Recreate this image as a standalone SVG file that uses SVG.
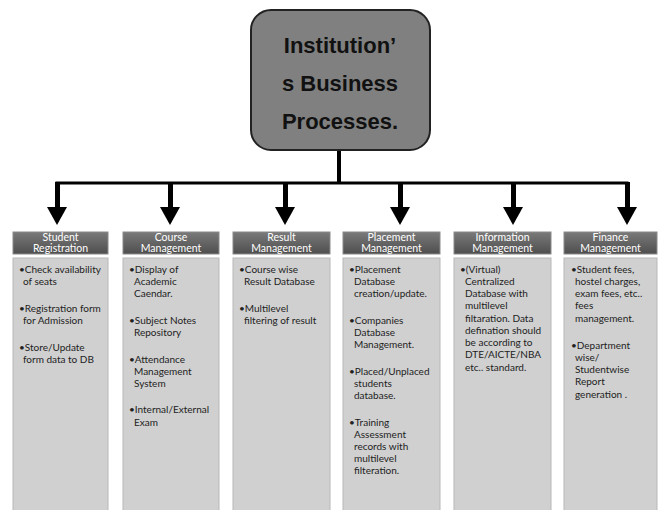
<svg xmlns="http://www.w3.org/2000/svg" width="658" height="510" viewBox="0 0 658 510">
<style>
.title{font-family:"Liberation Sans",Arial,sans-serif;font-weight:bold;font-size:22px;fill:#111;text-anchor:middle}
.hd{fill:url(#hg);stroke:#8a8a8a;stroke-width:1}
.body{fill:#d0d0d0;stroke:#b8b8b8;stroke-width:1}
.ht{font-family:Lato,"Liberation Sans",sans-serif;font-size:10.5px;fill:#fff;text-anchor:middle}
.bt{font-family:Lato,"Liberation Sans",sans-serif;font-size:10px;fill:#222}
.ln{stroke:#000;fill:none}
</style>
<defs>
<linearGradient id="hg" x1="0" y1="0" x2="0" y2="1">
<stop offset="0" stop-color="#7a7a7a"/>
<stop offset="1" stop-color="#4e4e4e"/>
</linearGradient>
<marker id="ah" markerUnits="userSpaceOnUse" markerWidth="20" markerHeight="18" refX="10" refY="0" orient="auto" viewBox="0 0 20 18" overflow="visible">
<path d="M0,0 L20,0 L10,18 Z" fill="#000" transform="rotate(-90 10 0) translate(0,0)"/>
</marker>
</defs>
<rect width="658" height="510" fill="#fff"/>

<g id="connectors">
<line class="ln" x1="339" y1="150" x2="339" y2="184" stroke-width="4"/>
<line class="ln" x1="55.5" y1="183" x2="628.5" y2="183" stroke-width="3"/>
<g fill="#000">
<rect x="55" y="182" width="5" height="26"/><polygon points="47,207 67,207 57,225"/>
<rect x="168" y="182" width="5" height="26"/><polygon points="160,207 180,207 170,225"/>
<rect x="283" y="182" width="5" height="26"/><polygon points="275,207 295,207 285,225"/>
<rect x="398" y="182" width="5" height="26"/><polygon points="390,207 410,207 400,225"/>
<rect x="511" y="182" width="5" height="26"/><polygon points="503,207 523,207 513,225"/>
<rect x="625" y="182" width="5" height="26"/><polygon points="617,207 637,207 627,225"/>
</g>
</g>

<g id="root">
<rect x="251" y="10" width="179" height="140" rx="20" ry="20" fill="#808080" stroke="#222" stroke-width="2"/>
<text class="title" x="340" y="53">Institution’</text>
<text class="title" x="340" y="91">s Business</text>
<text class="title" x="340" y="129">Processes.</text>
</g>

<g id="student">
<rect class="hd" x="13" y="232" width="95" height="22"/>
<text class="ht" x="60.5" y="241">Student</text>
<text class="ht" x="60.5" y="252">Registration</text>
<rect class="body" x="13" y="258" width="95" height="260"/>
<text class="bt"><tspan x="19" y="273">•Check availability</tspan><tspan x="23" y="285">of seats</tspan><tspan x="19" y="312">•Registration form</tspan><tspan x="23" y="324">for Admission</tspan><tspan x="19" y="351">•Store/Update</tspan><tspan x="23" y="363">form data to DB</tspan></text>
</g>

<g id="course">
<rect class="hd" x="123" y="232" width="96" height="22"/>
<text class="ht" x="171" y="241">Course</text>
<text class="ht" x="171" y="252">Management</text>
<rect class="body" x="123" y="258" width="96" height="260"/>
<text class="bt"><tspan x="129" y="273">•Display of</tspan><tspan x="134" y="285">Academic</tspan><tspan x="134" y="297">Caendar.</tspan><tspan x="129" y="324">•Subject Notes</tspan><tspan x="134" y="336">Repository</tspan><tspan x="129" y="363">•Attendance</tspan><tspan x="134" y="375">Management</tspan><tspan x="134" y="387">System</tspan><tspan x="129" y="413">•Internal/External</tspan><tspan x="134" y="426">Exam</tspan></text>
</g>

<g id="result">
<rect class="hd" x="233" y="232" width="97" height="22"/>
<text class="ht" x="281.5" y="241">Result</text>
<text class="ht" x="281.5" y="252">Management</text>
<rect class="body" x="233" y="258" width="97" height="260"/>
<text class="bt"><tspan x="239" y="273">•Course wise</tspan><tspan x="244" y="285">Result Database</tspan><tspan x="239" y="312">•Multilevel</tspan><tspan x="244" y="324">filtering of result</tspan></text>
</g>

<g id="placement">
<rect class="hd" x="343" y="232" width="97" height="22"/>
<text class="ht" x="391.5" y="241">Placement</text>
<text class="ht" x="391.5" y="252">Management</text>
<rect class="body" x="343" y="258" width="97" height="260"/>
<text class="bt"><tspan x="349" y="273">•Placement</tspan><tspan x="354" y="285">Database</tspan><tspan x="354" y="297">creation/update.</tspan><tspan x="349" y="324">•Companies</tspan><tspan x="354" y="336">Database</tspan><tspan x="354" y="348">Management.</tspan><tspan x="349" y="375">•Placed/Unplaced</tspan><tspan x="354" y="387">students</tspan><tspan x="354" y="399">database.</tspan><tspan x="349" y="426">•Training</tspan><tspan x="354" y="438">Assessment</tspan><tspan x="354" y="450">records with</tspan><tspan x="354" y="462">multilevel</tspan><tspan x="354" y="474">filteration.</tspan></text>
</g>

<g id="information">
<rect class="hd" x="454" y="232" width="97" height="22"/>
<text class="ht" x="502.5" y="241">Information</text>
<text class="ht" x="502.5" y="252">Management</text>
<rect class="body" x="454" y="258" width="97" height="260"/>
<text class="bt"><tspan x="460" y="273">•(Virtual)</tspan><tspan x="465" y="285">Centralized</tspan><tspan x="465" y="297">Database with</tspan><tspan x="465" y="309">multilevel</tspan><tspan x="465" y="322">filtaration. Data</tspan><tspan x="465" y="334">defination should</tspan><tspan x="465" y="346">be according to</tspan><tspan x="465" y="358">DTE/AICTE/NBA</tspan><tspan x="465" y="371">etc.. standard.</tspan></text>
</g>

<g id="finance">
<rect class="hd" x="564" y="232" width="93" height="22"/>
<text class="ht" x="610.5" y="241">Finance</text>
<text class="ht" x="610.5" y="252">Management</text>
<rect class="body" x="564" y="258" width="93" height="260"/>
<text class="bt"><tspan x="571" y="273">•Student fees,</tspan><tspan x="575" y="285">hostel charges,</tspan><tspan x="575" y="297">exam fees, etc..</tspan><tspan x="575" y="309">fees</tspan><tspan x="575" y="322">management.</tspan><tspan x="571" y="349">•Department</tspan><tspan x="575" y="361">wise/</tspan><tspan x="575" y="373">Studentwise</tspan><tspan x="575" y="385">Report</tspan><tspan x="575" y="398">generation .</tspan></text>
</g>
</svg>
